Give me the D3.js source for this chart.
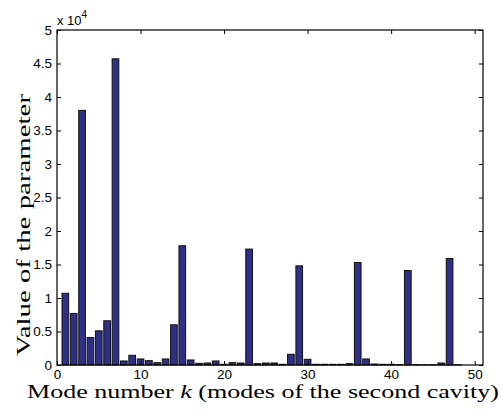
<!DOCTYPE html>
<html>
<head>
<meta charset="utf-8">
<script src="https://cdn.jsdelivr.net/npm/d3@7"></script>
<style>
  body { margin: 0; background: #fff; }
  text { font-family: "Liberation Sans", Arial, sans-serif; }
</style>
</head>
<body>
<svg id="chart"></svg>
<script>
// Chart data (values in units of 1e4)
const modes = [1, 2, 3, 4, 5, 6, 7, 8, 9, 10, 11, 12, 13, 14, 15, 16, 17, 18, 19, 20, 21, 22, 23, 24,
               25, 26, 27, 28, 29, 30, 31, 32, 33, 34, 35, 36, 37, 38, 39, 40, 41, 42, 43, 44, 45, 46, 47, 48];
const values = [1.07, 0.77, 3.80, 0.41, 0.51, 0.66, 4.57, 0.06, 0.145, 0.09, 0.065, 0.035,
                0.09, 0.60, 1.78, 0.075, 0.025, 0.03, 0.06, 0.01, 0.035, 0.03, 1.73, 0.02,
                0.03, 0.03, 0.01, 0.16, 1.48, 0.085, 0.01, 0.01, 0.01, 0.01, 0.02, 1.53,
                0.09, 0.015, 0.01, 0.01, 0.005, 1.41, 0.005, 0.003, 0.003, 0.03, 1.59, 0.003];
const xTicks = [0, 10, 20, 30, 40, 50];
const yTicks = [0, 0.5, 1, 1.5, 2, 2.5, 3, 3.5, 4, 4.5, 5];

// Dimensions
const width = 503, height = 411;
const mLeft = 57, mRight = 483, mTop = 30, mBottom = 365;

const svg = d3.select("#chart")
    .attr("width", width)
    .attr("height", height);

const x = d3.scaleLinear().domain([0, 51]).range([mLeft, mRight]);
const y = d3.scaleLinear().domain([0, 5]).range([mBottom, mTop]);
const barW = 0.8;

// Bars
svg.append("g")
    .selectAll("rect")
    .data(values)
    .join("rect")
    .attr("x", (d, i) => x(modes[i] - barW / 2))
    .attr("width", (d, i) => x(modes[i] + barW / 2) - x(modes[i] - barW / 2))
    .attr("y", d => y(d))
    .attr("height", d => y(0) - y(d))
    .attr("fill", "#2e3088")
    .attr("stroke", "#111")
    .attr("stroke-width", 1);

// Axes: ticks pointing inward, on all four sides
const tickLen = 4;
svg.append("g")
    .attr("transform", `translate(0,${mBottom})`)
    .call(d3.axisBottom(x).tickValues(xTicks).tickSizeInner(-tickLen).tickSizeOuter(0).tickPadding(4))
    .call(g => g.select(".domain").remove());
svg.append("g")
    .attr("transform", `translate(0,${mTop})`)
    .call(d3.axisTop(x).tickValues(xTicks).tickSizeInner(-tickLen).tickSizeOuter(0).tickFormat(""))
    .call(g => g.select(".domain").remove());
svg.append("g")
    .attr("transform", `translate(${mLeft},0)`)
    .call(d3.axisLeft(y).tickValues(yTicks).tickSizeInner(-tickLen).tickSizeOuter(0).tickPadding(5).tickFormat(d3.format("")))
    .call(g => g.select(".domain").remove());
svg.append("g")
    .attr("transform", `translate(${mRight},0)`)
    .call(d3.axisRight(y).tickValues(yTicks).tickSizeInner(-tickLen).tickSizeOuter(0).tickFormat(""))
    .call(g => g.select(".domain").remove());

svg.selectAll(".tick text")
    .attr("font-family", "'Liberation Sans', Arial, sans-serif")
    .attr("font-size", 13.5)
    .attr("fill", "#000");
svg.selectAll(".tick line").attr("stroke", "#000");

// Box
svg.append("rect")
    .attr("x", mLeft)
    .attr("y", mTop)
    .attr("width", mRight - mLeft)
    .attr("height", mBottom - mTop)
    .attr("fill", "none")
    .attr("stroke", "#000")
    .attr("stroke-width", 1.2);

// Exponent label
const expo = svg.append("text")
    .attr("x", mLeft)
    .attr("y", 25)
    .attr("font-size", 13);
expo.append("tspan").text("x 10");
expo.append("tspan").attr("dy", -7).attr("font-size", 10).text("4");

// Axis titles
const xl = svg.append("text")
    .attr("x", 263)
    .attr("y", 398)
    .attr("text-anchor", "middle")
    .style("font-family", "'Liberation Serif', 'DejaVu Serif', serif")
    .attr("font-size", 19.5)
    .attr("textLength", 472)
    .attr("lengthAdjust", "spacingAndGlyphs");
xl.append("tspan").text("Mode number ");
xl.append("tspan").attr("font-style", "italic").text("k");
xl.append("tspan").text(" (modes of the second cavity)");

svg.append("text")
    .attr("transform", "translate(30,225) rotate(-90)")
    .attr("text-anchor", "middle")
    .style("font-family", "'Liberation Serif', 'DejaVu Serif', serif")
    .attr("font-size", 19)
    .attr("textLength", 262)
    .attr("lengthAdjust", "spacingAndGlyphs")
    .text("Value of the parameter");
</script>
</body>
</html>
